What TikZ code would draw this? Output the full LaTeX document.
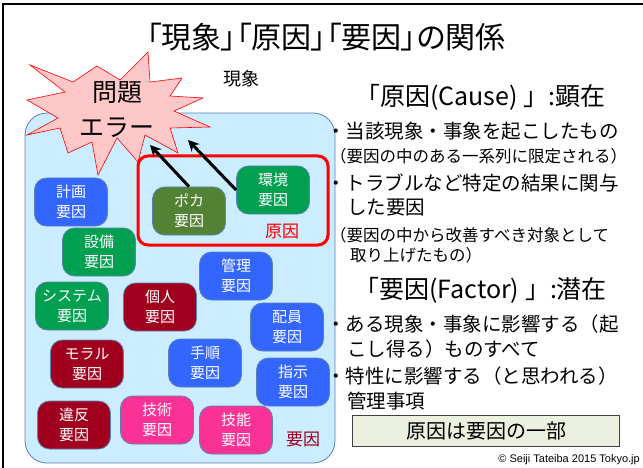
\documentclass[tikz,border=0pt]{standalone}
\usepackage{fontspec}
\setmainfont{Noto Sans CJK JP}
\newfontfamily\latinfont{Liberation Sans}
\newfontfamily\titulfont[RawFeature=+palt]{Noto Sans CJK JP}
\usetikzlibrary{arrows.meta}

\definecolor{modra}{RGB}{51,102,255}
\definecolor{zelena}{RGB}{0,160,80}
\definecolor{olivova}{RGB}{84,130,53}
\definecolor{vinova}{RGB}{160,0,30}
\definecolor{ruzova}{RGB}{250,50,150}
\definecolor{pozadi}{RGB}{204,236,255}
\definecolor{okraj}{RGB}{90,130,180}
\definecolor{vybuchfill}{RGB}{255,200,200}
\definecolor{souhrn}{RGB}{235,241,222}

\tikzstyle{faktor}=[draw=okraj, line width=0.8pt, rounded corners=12pt, minimum width=73pt, minimum height=48pt, text=white, align=center, font=\fontsize{15}{20}\selectfont]
\tikzstyle{radek}=[anchor=west, inner sep=0pt, font=\fontsize{19.5}{24}\selectfont]
\tikzstyle{poznamka}=[anchor=west, inner sep=0pt, font=\fontsize{16.5}{20}\selectfont]
\tikzstyle{nadpis}=[anchor=west, inner sep=0pt, font=\fontsize{25}{30}\selectfont]
\tikzstyle{sipka}=[line width=3pt, -{Stealth[length=11pt,width=11pt]}]

\begin{document}
\begin{tikzpicture}[x=1pt, y=-1pt]
            \useasboundingbox (0,0) rectangle (643,468);

            % Ramecek a nadpis
            \draw[line width=2.5pt] (3,468) -- (3,4) -- (643,4);
            \node[font=\titulfont\fontsize{30}{34}\selectfont] (titul) at (326,37) {「現象」「原因」「要因」の関係};

            % Oblast jevu
            \draw[fill=pozadi, draw=okraj, line width=0.8pt, rounded corners=22pt] (25,113) rectangle (335,463);
            \node[font=\fontsize{18}{22}\selectfont] (jev) at (241,79) {現象};

            % Vybuch
            \draw[fill=vybuchfill, draw=red, line width=0.6pt] (30,65) -- (73,82) -- (97,66) -- (120,80) -- (148,52) -- (150,82) -- (182,78) -- (170,96) -- (203,98) -- (174,111) -- (210,127) -- (170,128) -- (178,153) -- (145,135) -- (138,162) -- (117,138) -- (98,175) -- (92,142) -- (68,153) -- (60,128) -- (27,135) -- (58,118) -- (27,100) -- (65,92) -- cycle;
            \node[align=center, font=\fontsize{25}{35}\selectfont] (problem) at (117,110) {問題\\エラー};

            % Pricina
            \draw[red, line width=3pt, rounded corners=10pt] (138,156) rectangle (328,245);
            \node[red, font=\fontsize{17}{20}\selectfont] (pricina) at (282,231) {原因};
            \node[vinova, font=\fontsize{17}{20}\selectfont] (faktory) at (303,439) {要因};

            % Faktory
            \node[faktor, fill=modra] (keikaku) at (71,202) {計画\\要因};
            \node[faktor, fill=olivova] (poka) at (189,211) {ポカ\\要因};
            \node[faktor, fill=zelena] (kankyo) at (273,190) {環境\\要因};
            \node[faktor, fill=zelena] (setsubi) at (99,252) {設備\\要因};
            \node[faktor, fill=modra] (kanri) at (236,276) {管理\\要因};
            \node[faktor, fill=zelena] (system) at (72,306) {システム\\要因};
            \node[faktor, fill=vinova] (kojin) at (160,307) {個人\\要因};
            \node[faktor, fill=modra] (haiin) at (287,327) {配員\\要因};
            \node[faktor, fill=vinova] (moral) at (87,364) {モラル\\要因};
            \node[faktor, fill=modra] (tejun) at (205,363) {手順\\要因};
            \node[faktor, fill=modra] (shiji) at (293,382) {指示\\要因};
            \node[faktor, fill=vinova] (ihan) at (74,425) {違反\\要因};
            \node[faktor, fill=ruzova] (gijutsu) at (157,420) {技術\\要因};
            \node[faktor, fill=ruzova] (gino) at (236,430) {技能\\要因};

            % Sipky k vybuchu
            \coordinate (hrotA) at (150,145);
            \coordinate (hrotB) at (188,140);
            \draw[sipka] (poka.north) -- (hrotA);
            \draw[sipka] (kankyo.west) -- (hrotB);

            % Text vpravo
            \node[nadpis] (cause) at (355,97) {「原因(Cause) 」:顕在};
            \node[radek] (c1) at (326,131) {・当該現象・事象を起こしたもの};
            \node[poznamka] (c2) at (330,156) {（要因の中のある一系列に限定される）};
            \node[radek] (c3) at (326,183) {・トラブルなど特定の結果に関与};
            \node[radek] (c4) at (347,208) {した要因};
            \node[poznamka] (c5) at (330,235) {（要因の中から改善すべき対象として};
            \node[poznamka] (c6) at (350,255) {取り上げたもの）};

            \node[nadpis] (factor) at (354,290) {「要因(Factor) 」:潜在};
            \node[radek] (f1) at (326,324) {・ある現象・事象に影響する（起};
            \node[radek] (f2) at (347,349) {こし得る）ものすべて};
            \node[radek] (f3) at (326,376) {・特性に影響する（と思われる）};
            \node[radek] (f4) at (347,401) {管理事項};

            \node[draw=black!75, fill=souhrn, line width=0.8pt, minimum width=267pt, minimum height=31pt, font=\fontsize{20}{24}\selectfont] (souhrn) at (486,431) {原因は要因の一部};
            \node[anchor=east, inner sep=0pt, font=\latinfont\fontsize{11}{13}\selectfont] (copy) at (640,460) {© Seiji Tateiba 2015 Tokyo.jp};
\end{tikzpicture}
\end{document}
